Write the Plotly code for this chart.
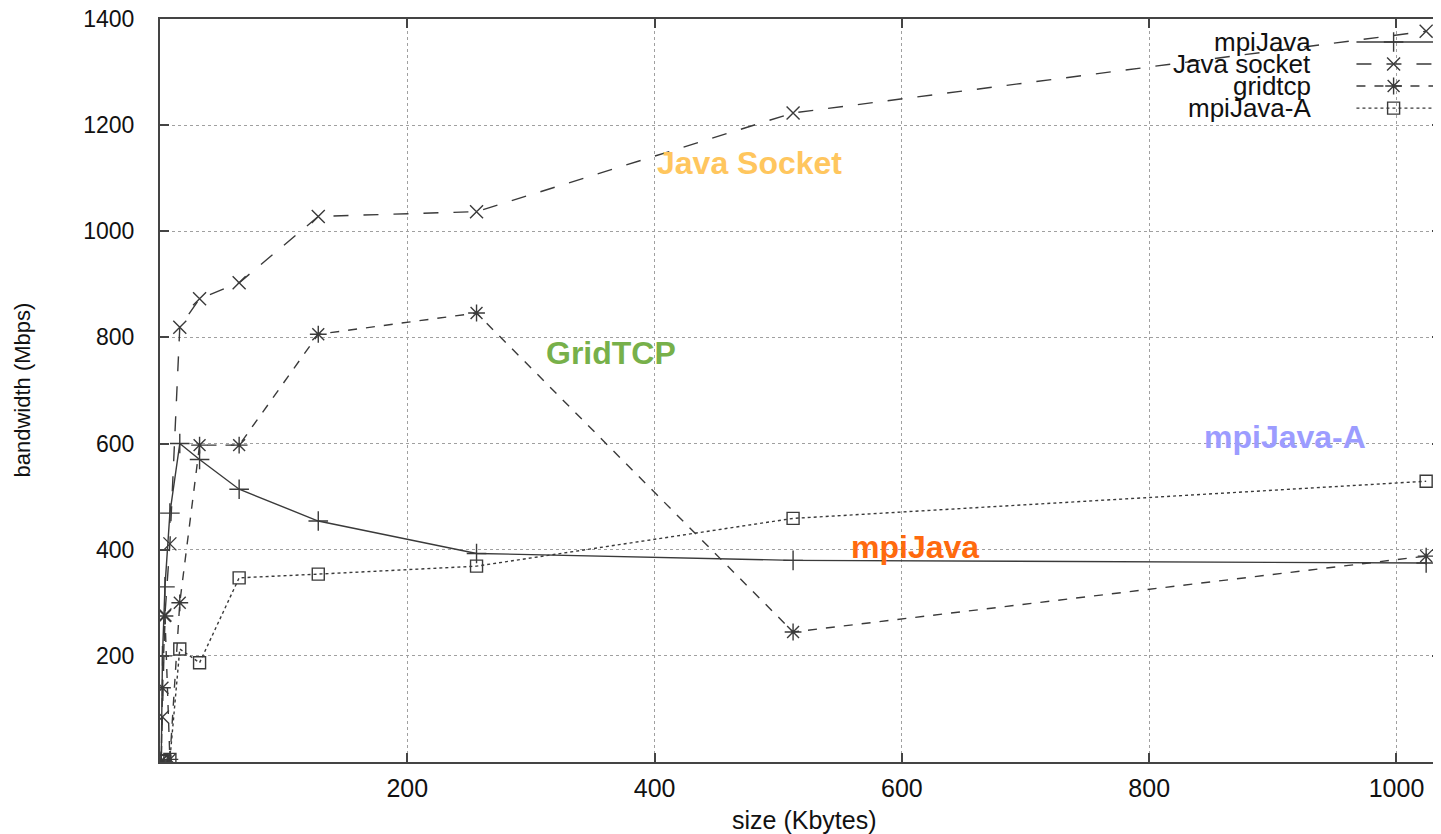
import plotly.graph_objects as go

sizes = [1, 2, 4, 8, 16, 32, 64, 128, 256, 512, 1024]
mpijava = [2, 200, 330, 469, 600, 570, 514, 454, 393, 380, 375]
java_socket = [2, 85, 277, 411, 819, 873, 903, 1028, 1037, 1223, 1377]
gridtcp = [2, 140, 275, 5, 300, 597, 597, 806, 846, 245, 388]
mpijava_a = [2, 2, 2, 5, 213, 187, 347, 354, 369, 459, 529]

x_ticks = [200, 400, 600, 800, 1000]
y_ticks = [200, 400, 600, 800, 1000, 1200, 1400]

series = [
    ("mpiJava", mpijava, "solid", "cross-thin", 14),
    ("Java socket", java_socket, "longdash", "x-thin", 13),
    ("gridtcp", gridtcp, "dash", "asterisk", 14),
    ("mpiJava-A", mpijava_a, "dot", "square-open", 12),
]

labels = [
    ("Java Socket", 477, 1129, "#FFC65E"),
    ("GridTCP", 365, 771, "#77B04A"),
    ("mpiJava-A", 910, 613, "#9C9CFF"),
    ("mpiJava", 611, 405, "#FF6A0E"),
]

LC = "#3a3a3a"
FONT = "Liberation Sans"
fig = go.Figure()
for name, vals, dash, sym, ms in series:
    fig.add_trace(go.Scatter(
        x=sizes, y=vals, mode="lines+markers", name=name, showlegend=False,
        line=dict(color=LC, width=1.4, dash=dash),
        marker=dict(symbol=sym, size=ms, color=LC, line=dict(color=LC, width=1.4)),
    ))

# gnuplot-style key (text left, sample right) drawn on an overlay axis
leg_y = [0.969, 0.9394, 0.9098, 0.880]
for (name, vals, dash, sym, ms), ly in zip(series, leg_y):
    fig.add_trace(go.Scatter(
        x=[0.934, 0.999], y=[ly, ly], xaxis="x2", yaxis="y2", mode="lines",
        showlegend=False, hoverinfo="skip",
        line=dict(color=LC, width=1.4, dash=dash),
    ))
    fig.add_trace(go.Scatter(
        x=[0.963], y=[ly], xaxis="x2", yaxis="y2", mode="markers",
        showlegend=False, hoverinfo="skip",
        marker=dict(symbol=sym, size=ms, color=LC, line=dict(color=LC, width=1.4)),
    ))
    fig.add_annotation(x=0.900, y=ly, xref="x2", yref="y2", text=name,
                       showarrow=False, xanchor="right", yanchor="middle",
                       font=dict(family=FONT, size=26, color="#111"))

for text, lx, ly, col in labels:
    fig.add_annotation(x=lx, y=ly, text="<b>%s</b>" % text, showarrow=False,
                       font=dict(family=FONT, size=32, color=col))

# axis titles
fig.add_annotation(x=0.503, y=-0.078, xref="paper", yref="paper",
                   text="size (Kbytes)", showarrow=False,
                   xanchor="center", yanchor="middle",
                   font=dict(family=FONT, size=25, color="#111"))
fig.add_annotation(x=-0.1077, y=0.50, xref="paper", yref="paper",
                   text="bandwidth (Mbps)", showarrow=False, textangle=-90,
                   xanchor="center", yanchor="middle",
                   font=dict(family=FONT, size=22, color="#111"))

axis_common = dict(
    showgrid=True, gridcolor="#a0a0a0", griddash="dot", gridwidth=1,
    showline=True, linecolor="#444", linewidth=2, mirror="ticks",
    ticks="inside", ticklen=9, tickcolor="#444", tickwidth=2,
    zeroline=False, ticklabeloverflow="allow",
)

fig.update_layout(
    width=1433, height=826,
    margin=dict(l=152, r=0, t=11, b=72, autoexpand=False),
    paper_bgcolor="white", plot_bgcolor="white",
    showlegend=False,
    xaxis=dict(range=[0, 1036], tickvals=x_ticks,
               ticktext=[str(v) for v in x_ticks], ticklabelstandoff=3,
               tickfont=dict(family=FONT, size=25, color="#111"),
               **axis_common),
    yaxis=dict(range=[0, 1400], tickvals=y_ticks,
               ticktext=[str(v) for v in y_ticks], ticklabelstandoff=19,
               tickfont=dict(family=FONT, size=23, color="#111"),
               **axis_common),
    xaxis2=dict(overlaying="x", range=[0, 1], visible=False, fixedrange=True),
    yaxis2=dict(overlaying="y", range=[0, 1], visible=False, fixedrange=True),
)

fig.write_html("out.html")
